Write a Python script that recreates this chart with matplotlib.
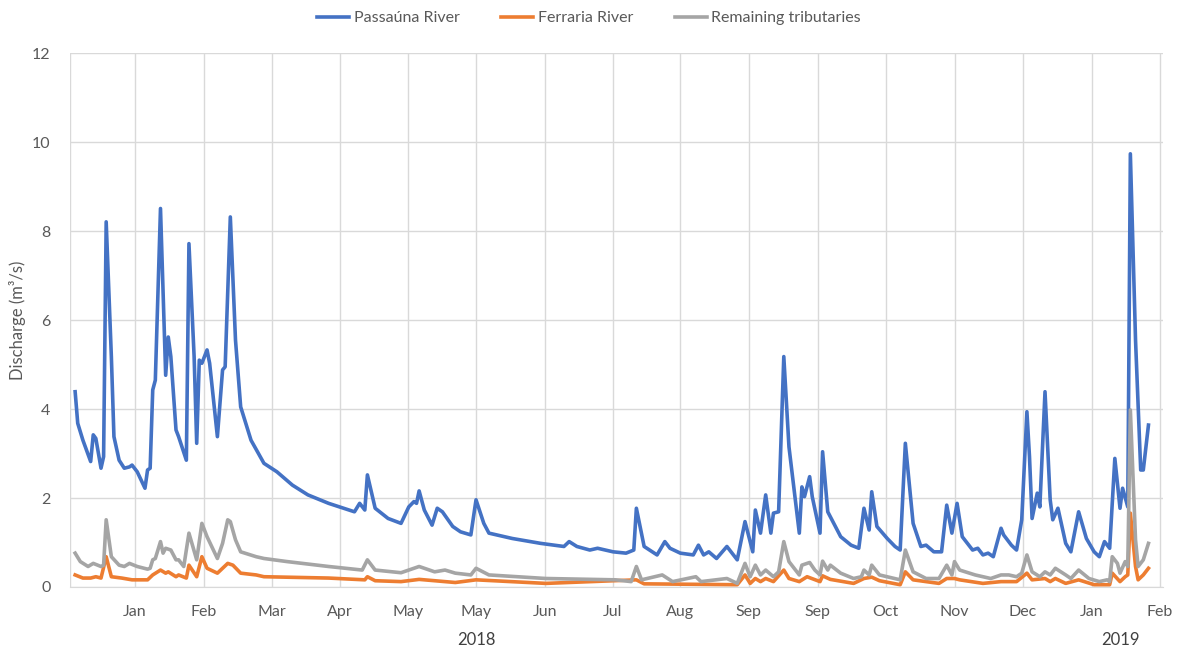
import matplotlib
matplotlib.use("Agg")
import matplotlib.pyplot as plt
import matplotlib.transforms as mtransforms

plt.rcParams['font.family'] = ['Lato', 'DejaVu Sans']

# --- DATA (day index from start of record, discharge in m3/s) ---
passauna_day = [2, 3, 5, 8, 9, 10, 12, 13, 14, 16, 17, 19, 21, 23, 24, 26, 29, 30, 31, 32,
                33, 35, 37, 38, 39, 41, 42, 45, 46, 48, 49, 50, 51, 53, 54, 57, 59, 60, 62, 64,
                66, 70, 75, 80, 86, 92, 100, 110, 112, 114, 115, 118, 123, 128, 131, 133, 134, 135, 137, 140,
                142, 144, 148, 151, 155, 157, 160, 162, 171, 182, 191, 193, 196, 201, 204, 210, 215, 218, 219, 222,
                227, 230, 232, 236, 241, 243, 245, 247, 250, 254, 258, 261, 264, 265, 267, 269, 271, 272, 274, 276,
                278, 282, 283, 284, 286, 287, 290, 291, 293, 298, 302, 305, 307, 309, 310, 312, 316, 319, 321, 323,
                326, 329, 331, 334, 337, 339, 341, 343, 345, 349, 351, 353, 355, 357, 360, 361, 364, 366, 368, 370,
                371, 372, 374, 375, 377, 379, 380, 382, 385, 387, 390, 393, 396, 398, 400, 402, 404, 406, 407, 409,
                410, 412, 414, 415, 417]
passauna_q = [4.39, 3.68, 3.30, 2.82, 3.42, 3.34, 2.67, 2.93, 8.21, 5.18, 3.38, 2.85, 2.67, 2.70, 2.74, 2.59, 2.22, 2.63, 2.67, 4.43,
              4.65, 8.51, 4.76, 5.62, 5.18, 3.53, 3.38, 2.85, 7.72, 5.18, 3.23, 5.10, 5.03, 5.33, 5.03, 3.38, 4.88, 4.95, 8.32, 5.55,
              4.05, 3.30, 2.78, 2.59, 2.29, 2.07, 1.88, 1.69, 1.88, 1.73, 2.52, 1.77, 1.54, 1.43, 1.80, 1.92, 1.88, 2.16, 1.73, 1.39,
              1.77, 1.69, 1.36, 1.24, 1.17, 1.96, 1.43, 1.21, 1.09, 0.98, 0.91, 1.02, 0.91, 0.83, 0.87, 0.79, 0.76, 0.83, 1.77, 0.91,
              0.72, 1.02, 0.87, 0.76, 0.72, 0.94, 0.72, 0.79, 0.64, 0.91, 0.61, 1.47, 0.79, 1.73, 1.21, 2.07, 1.21, 1.66, 1.69, 5.18,
              3.15, 1.21, 2.25, 2.03, 2.48, 2.03, 1.21, 3.04, 1.69, 1.13, 0.94, 0.87, 1.77, 1.28, 2.14, 1.36, 1.09, 0.91, 0.83, 3.23,
              1.43, 0.91, 0.94, 0.79, 0.79, 1.84, 1.21, 1.88, 1.13, 0.83, 0.87, 0.72, 0.76, 0.68, 1.32, 1.17, 0.94, 0.83, 1.51, 3.94,
              2.93, 1.54, 2.11, 1.80, 4.39, 1.96, 1.51, 1.77, 0.98, 0.79, 1.69, 1.09, 0.79, 0.68, 1.02, 0.87, 2.89, 1.77, 2.22, 1.80,
              9.74, 5.55, 2.63, 2.63, 3.64]

ferraria_day = [2, 5, 8, 10, 12, 14, 16, 20, 24, 30, 32, 35, 37, 38, 41, 42, 45, 46, 49, 51,
                53, 57, 61, 63, 66, 72, 75, 100, 114, 115, 118, 128, 135, 149, 157, 184, 219, 222, 258, 261,
                263, 265, 267, 269, 272, 276, 278, 282, 285, 290, 291, 294, 303, 307, 310, 313, 321, 323, 326, 336,
                339, 342, 344, 353, 360, 366, 370, 372, 377, 379, 381, 385, 390, 396, 402, 403, 406, 408, 409, 410,
                412, 413, 415, 417]
ferraria_q = [0.27, 0.20, 0.20, 0.23, 0.20, 0.68, 0.23, 0.20, 0.16, 0.16, 0.27, 0.38, 0.31, 0.34, 0.23, 0.27, 0.20, 0.49, 0.23, 0.68,
              0.42, 0.31, 0.53, 0.49, 0.31, 0.27, 0.23, 0.20, 0.16, 0.23, 0.14, 0.12, 0.17, 0.10, 0.16, 0.08, 0.16, 0.07, 0.05, 0.27,
              0.08, 0.19, 0.12, 0.19, 0.12, 0.38, 0.19, 0.12, 0.23, 0.12, 0.25, 0.17, 0.08, 0.19, 0.22, 0.14, 0.05, 0.34, 0.16, 0.08,
              0.19, 0.19, 0.16, 0.08, 0.12, 0.12, 0.31, 0.16, 0.19, 0.12, 0.19, 0.08, 0.16, 0.05, 0.05, 0.31, 0.12, 0.23, 0.27, 1.66,
              0.46, 0.16, 0.27, 0.42]

remaining_day = [2, 4, 7, 9, 12, 13, 14, 16, 19, 21, 23, 26, 30, 31, 32, 33, 35, 36, 37, 39,
                 41, 42, 44, 46, 49, 51, 53, 57, 59, 61, 62, 64, 66, 72, 75, 84, 100, 113, 115, 118,
                 128, 135, 141, 145, 149, 155, 157, 162, 184, 211, 217, 219, 221, 229, 233, 242, 244, 254, 258, 261,
                 263, 265, 267, 269, 272, 274, 276, 278, 282, 283, 286, 288, 290, 291, 293, 294, 298, 303, 306, 307,
                 309, 310, 313, 321, 323, 326, 331, 336, 339, 341, 342, 344, 350, 356, 360, 363, 366, 368, 370, 372,
                 375, 377, 379, 381, 385, 387, 390, 394, 398, 401, 402, 403, 405, 406, 408, 409, 410, 412, 413, 415,
                 417]
remaining_q = [0.76, 0.57, 0.46, 0.53, 0.46, 0.49, 1.51, 0.68, 0.49, 0.46, 0.53, 0.46, 0.40, 0.42, 0.61, 0.64, 1.02, 0.76, 0.87, 0.83,
               0.61, 0.61, 0.46, 1.21, 0.61, 1.43, 1.13, 0.64, 0.98, 1.51, 1.47, 1.06, 0.79, 0.68, 0.64, 0.57, 0.46, 0.38, 0.61, 0.38,
               0.32, 0.46, 0.34, 0.38, 0.31, 0.27, 0.42, 0.27, 0.19, 0.16, 0.12, 0.46, 0.16, 0.27, 0.12, 0.23, 0.12, 0.19, 0.08, 0.53,
               0.23, 0.49, 0.27, 0.38, 0.23, 0.34, 1.02, 0.57, 0.27, 0.49, 0.55, 0.38, 0.27, 0.58, 0.38, 0.49, 0.31, 0.19, 0.23, 0.38,
               0.27, 0.49, 0.27, 0.16, 0.83, 0.34, 0.19, 0.19, 0.49, 0.27, 0.57, 0.38, 0.27, 0.19, 0.27, 0.27, 0.23, 0.31, 0.72, 0.34,
               0.23, 0.34, 0.27, 0.42, 0.27, 0.19, 0.38, 0.19, 0.12, 0.16, 0.12, 0.68, 0.53, 0.31, 0.57, 0.46, 3.98, 1.06, 0.46, 0.61,
               0.98]

month_ticks = [25.1, 51.8, 78.1, 104.4, 130.7, 156.9, 183.6, 209.9, 235.8, 262.5, 289.1, 315.4, 342.1, 368.4, 395.1, 421.3]
month_labels = ['Jan', 'Feb', 'Mar', 'Apr', 'May', 'May', 'Jun', 'Jul', 'Aug', 'Sep', 'Sep', 'Oct', 'Nov', 'Dec', 'Jan', 'Feb']
year_labels = ['2018', '2019']
year_pos = [157, 406]

TEXT = '#595959'
GRID = '#d9d9d9'

fig = plt.figure(figsize=(11.78, 6.5), dpi=100)
ax = fig.add_axes([0.0594, 0.097, 0.9276, 0.821])

ax.plot(passauna_day, passauna_q, color='#4472C4', lw=2.6, label='Passaúna River', solid_joinstyle='round')
ax.plot(ferraria_day, ferraria_q, color='#ED7D31', lw=2.6, label='Ferraria River', solid_joinstyle='round')
ax.plot(remaining_day, remaining_q, color='#A5A5A5', lw=2.6, label='Remaining tributaries', solid_joinstyle='round')

ax.set_xlim(0, 422.5)
ax.set_ylim(0, 12)
ax.set_yticks(range(0, 13, 2))
ax.set_xticks(month_ticks)
ax.set_xticklabels(month_labels)
ax.tick_params(axis='both', length=0, colors=TEXT, labelsize=11.5)
ax.tick_params(axis='x', pad=13)
ax.tick_params(axis='y', pad=14)
ax.grid(True, color=GRID, lw=1)
ax.set_axisbelow(True)
for side in ['top', 'right', 'left']:
    ax.spines[side].set_visible(False)
ax.spines['bottom'].set_color(GRID)
ax.axvline(0, color=GRID, lw=1)

trans = mtransforms.blended_transform_factory(ax.transData, ax.transAxes)
for pos, lab in zip(year_pos, year_labels):
    ax.text(pos, -0.1, lab, transform=trans, ha='center', va='center', fontsize=12, color='#404040')

fig.text(18 / 1178, 1 - 320 / 650, 'Discharge (m³/s)', rotation=90, ha='center', va='center',
         fontsize=12, color=TEXT)

leg = fig.legend(loc='upper center', bbox_to_anchor=(0.5, 1.005), ncol=3, frameon=False,
                 fontsize=11.5, handlelength=2.0, handletextpad=0.3, columnspacing=2.6)
for t in leg.get_texts():
    t.set_color(TEXT)

fig.savefig('out.png', dpi=100)
